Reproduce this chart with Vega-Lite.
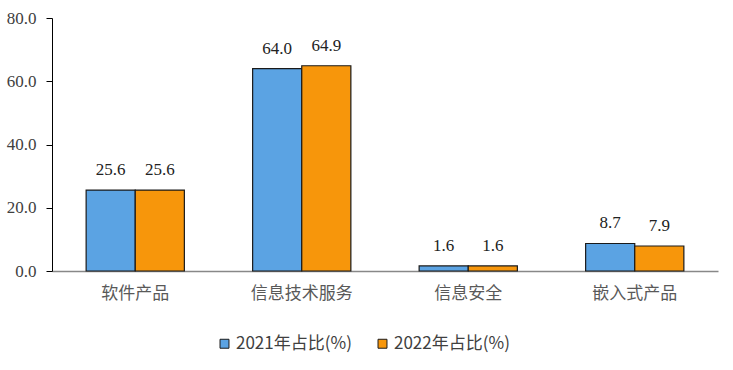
{
  "$schema": "https://vega.github.io/schema/vega-lite/v6.json",
  "width": 666,
  "height": 253,
  "autosize": "none",
  "padding": {"left": 52, "top": 18, "right": 15, "bottom": 99},
  "background": "white",
  "config": {"view": {"stroke": null}},
  "data": {
    "values": [
      {"category": "软件产品", "year": "2021年占比(%)", "value": 25.6},
      {"category": "软件产品", "year": "2022年占比(%)", "value": 25.6},
      {"category": "信息技术服务", "year": "2021年占比(%)", "value": 64.0},
      {"category": "信息技术服务", "year": "2022年占比(%)", "value": 64.9},
      {"category": "信息安全", "year": "2021年占比(%)", "value": 1.6},
      {"category": "信息安全", "year": "2022年占比(%)", "value": 1.6},
      {"category": "嵌入式产品", "year": "2021年占比(%)", "value": 8.7},
      {"category": "嵌入式产品", "year": "2022年占比(%)", "value": 7.9}
    ]
  },
  "encoding": {
    "x": {
      "field": "category", "type": "nominal", "sort": null, "title": null,
      "scale": {"paddingInner": 0.41, "paddingOuter": 0.205},
      "axis": {"labelAngle": 0, "ticks": false, "domainColor": "#888888", "domainWidth": 1.5, "labelFont": "Noto Sans CJK SC", "labelFontSize": 17, "labelColor": "#595959", "labelPadding": 14}
    },
    "xOffset": {"field": "year", "type": "nominal", "sort": null},
    "y": {
      "field": "value", "type": "quantitative", "title": null,
      "scale": {"domain": [0, 80]},
      "axis": {"values": [0, 20, 40, 60, 80], "format": ".1f", "grid": false, "domainColor": "#000000", "tickColor": "#000000", "tickSize": 6, "labelFont": "Liberation Serif", "labelFontSize": 17, "labelColor": "#404040", "labelPadding": 10}
    }
  },
  "layer": [
    {
      "mark": {"type": "bar", "stroke": "#1a1a1a", "strokeWidth": 1.2},
      "encoding": {
        "color": {
          "field": "year", "type": "nominal", "sort": null, "title": null,
          "scale": {"range": ["#5BA3E3", "#F7960B"]},
          "legend": {"orient": "none", "legendX": 164, "legendY": 317, "direction": "horizontal", "symbolType": "square", "symbolSize": 80, "symbolStrokeColor": "#1a1a1a", "symbolStrokeWidth": 1, "labelFont": "Noto Sans CJK SC", "labelFontSize": 17, "labelColor": "#404040", "columnPadding": 22, "labelOffset": 3}
        }
      }
    },
    {
      "mark": {"type": "text", "dy": -20, "font": "Liberation Serif", "fontSize": 17, "color": "#222222"},
      "encoding": {"text": {"field": "value", "type": "quantitative", "format": ".1f"}}
    }
  ]
}
